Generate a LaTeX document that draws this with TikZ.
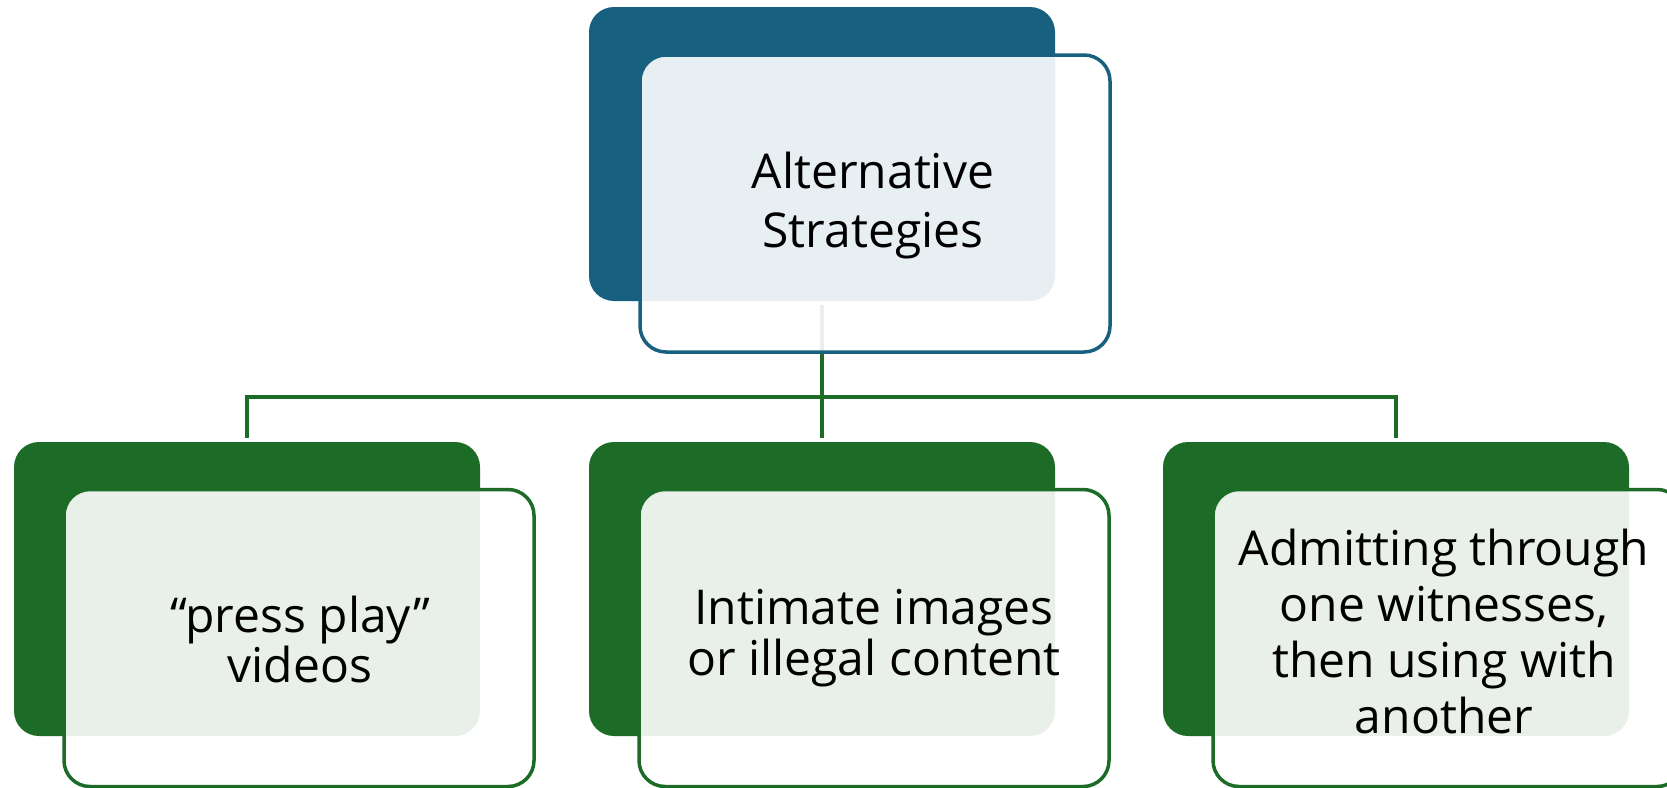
\documentclass[tikz,border=0pt]{standalone}
\usepackage{fontspec}
\setmainfont{Open Sans}
\definecolor{dblue}{HTML}{18607F}
\definecolor{dgreen}{HTML}{1C6B26}
\begin{document}
\begin{tikzpicture}[x=1pt,y=-1pt,
  back/.style={rectangle, rounded corners=25pt, minimum width=466pt, minimum height=294pt, inner sep=0pt, outer sep=0pt, draw=none},
  blueback/.style={back, fill=dblue},
  greenback/.style={back, fill=dgreen},
  front/.style={rectangle, rounded corners=26pt, minimum width=470pt, minimum height=297pt, inner sep=0pt, outer sep=0pt, line width=3.5pt, fill=white, fill opacity=0.9, draw opacity=1},
  bluefront/.style={front, draw=dblue},
  greenfront/.style={front, draw=dgreen},
  lbl/.style={align=center, text=black, inner sep=0pt, anchor=north},
  conn/.style={draw=dgreen, line width=3.5pt}]
\useasboundingbox (0,0) rectangle (1667,787);
\clip (0,0) rectangle (1667,787);
\coordinate (bar) at (0,397);
% back boxes
\node[blueback] (topd) at (822,154) {};
\node[greenback] (d1) at (247,589) {};
\node[greenback] (d2) at (822,589) {};
\node[greenback] (d3) at (1396,589) {};
% connectors
\draw[conn] ([yshift=-4pt]topd.south) -- (topd.south |- bar);
\draw[conn] ([yshift=4pt]d1.north) |- (bar -| d3.north) -- ([yshift=4pt]d3.north);
\draw[conn] (d2.north |- bar) -- ([yshift=4pt]d2.north);
% front boxes
\node[bluefront] (topf) at (875,203.5) {};
\node[greenfront] (f1) at (299,638) {};
\node[greenfront] (f2) at (874,638) {};
\node[greenfront] (f3) at (1448,638) {};
% texts
\node[lbl, font=\fontsize{48}{59}\selectfont] (t0) at (873,148) {\rule{0pt}{40pt}Alternative\\Strategies};
\node[lbl, font=\fontsize{48}{50}\selectfont] (t1) at (300,592) {\rule{0pt}{40pt}“press play”\\videos};
\node[lbl, font=\fontsize{48}{51}\selectfont] (t2) at (874,584) {\rule{0pt}{40pt}Intimate images\\or illegal content};
\node[lbl, font=\fontsize{48}{56}\selectfont] (t3) at (1444,525) {\rule{0pt}{40pt}Admitting through\\one witnesses,\\then using with\\another};
\end{tikzpicture}
\end{document}
